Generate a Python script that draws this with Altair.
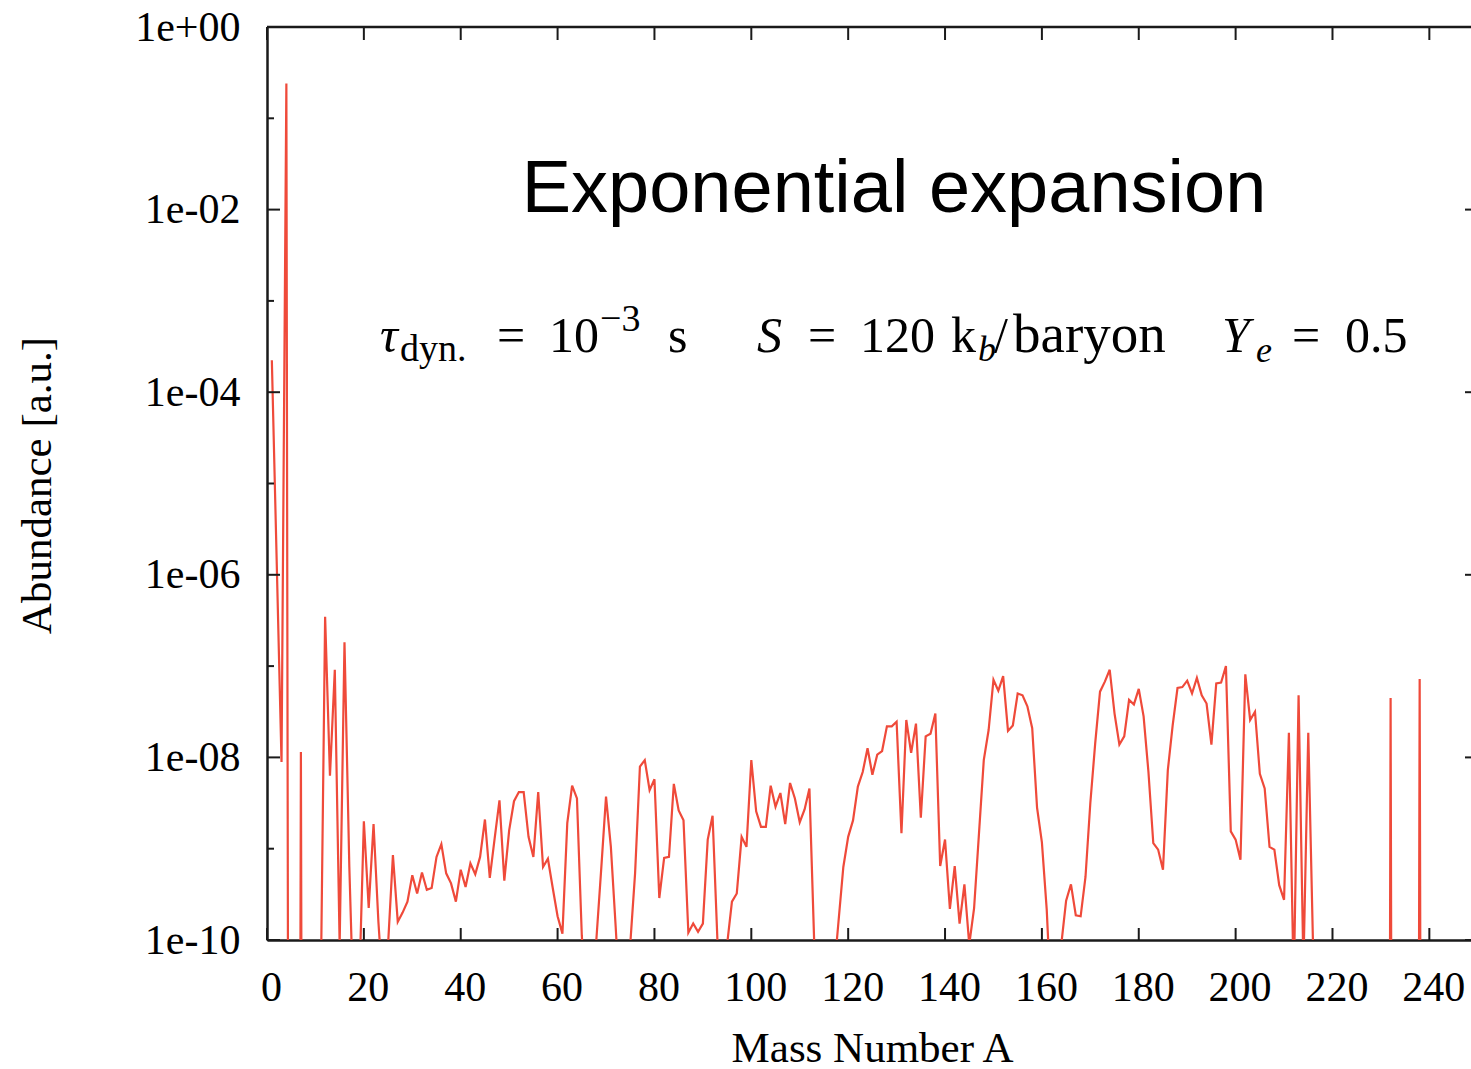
import altair as alt
import pandas as pd

# ---------------- data ----------------
mass_number = list(range(1, 251))
# log10 of abundance for A = 1..250 (values far below 1e-10 fall off the plot)
log10_abundance = [
    -3.65, -5.85, -8.05, -0.62, -30, -30, -7.94, -30, -30, -30,          # 1-10
    -11.0, -6.46, -8.20, -7.04, -10.05, -6.74, -9.20, -11.0, -10.6, -8.70,  # 11-20
    -9.65, -8.73, -9.80, -10.6, -10.05, -9.07, -9.80, -9.70, -9.58, -9.29,  # 21-30
    -9.49, -9.26, -9.45, -9.43, -9.09, -8.95, -9.27, -9.38, -9.58, -9.23,   # 31-40
    -9.42, -9.16, -9.28, -9.09, -8.68, -9.32, -8.89, -8.47, -9.35, -8.80,   # 41-50
    -8.48, -8.38, -8.38, -8.87, -9.09, -8.38, -9.20, -9.11, -9.43, -9.74,   # 51-60
    -9.93, -8.72, -8.31, -8.45, -9.95, -10.8, -10.8, -10.0, -9.23, -8.43,   # 61-70
    -8.98, -9.86, -10.8, -10.8, -10.05, -9.27, -8.10, -8.03, -8.36, -8.24,  # 71-80
    -9.54, -9.10, -9.09, -8.29, -8.58, -8.69, -9.92, -9.82, -9.91, -9.82,   # 81-90
    -8.90, -8.64, -10.0, -10.8, -10.05, -9.58, -9.49, -8.87, -8.98, -8.03,  # 91-100
    -8.59, -8.76, -8.76, -8.31, -8.54, -8.39, -8.73, -8.28, -8.45, -8.71,   # 101-110
    -8.57, -8.34, -10.05, -11.0, -11.0, -11.0, -10.4, -9.80, -9.20, -8.87,  # 111-120
    -8.69, -8.32, -8.16, -7.90, -8.19, -7.97, -7.93, -7.66, -7.66, -7.61,   # 121-130
    -8.83, -7.59, -7.95, -7.63, -8.66, -7.77, -7.74, -7.52, -9.19, -8.90,   # 131-140
    -9.66, -9.19, -9.82, -9.39, -10.05, -9.65, -8.84, -8.03, -7.70, -7.15,  # 141-150
    -7.27, -7.11, -7.71, -7.65, -7.30, -7.32, -7.44, -7.68, -8.55, -8.93,   # 151-160
    -9.67, -10.8, -10.8, -10.05, -9.57, -9.39, -9.73, -9.74, -9.31, -8.50,  # 161-170
    -7.85, -7.28, -7.17, -7.04, -7.52, -7.86, -7.77, -7.37, -7.42, -7.25,   # 171-180
    -7.55, -8.16, -8.94, -9.01, -9.23, -8.14, -7.65, -7.24, -7.23, -7.16,   # 181-190
    -7.30, -7.13, -7.32, -7.41, -7.86, -7.19, -7.18, -7.00, -8.81, -8.90,   # 191-200
    -9.12, -7.09, -7.59, -7.50, -8.18, -8.34, -8.98, -9.01, -9.40, -9.56,   # 201-210
    -7.73, -10.5, -7.32, -10.3, -7.73, -10.1, -30, -30, -30, -30,           # 211-220
    -30, -30, -30, -30, -30, -30, -30, -30, -30, -30,                       # 221-230
    -30, -7.35, -30, -30, -30, -30, -30, -7.14, -30, -30,                   # 231-240
    -30, -30, -30, -30, -30, -30, -30, -30, -30, -30,                       # 241-250
]
abundance = [10 ** v for v in log10_abundance]

x_tick_values = [0, 20, 40, 60, 80, 100, 120, 140, 160, 180, 200, 220, 240]
y_major_values = [1e0, 1e-2, 1e-4, 1e-6, 1e-8, 1e-10]
y_minor_values = [1e-1, 1e-3, 1e-5, 1e-7, 1e-9]

# ---------------- layout ----------------
W, H = 1204, 913
RED = "#ef4a3a"
INK = "#1a1a1a"
SERIF = "Liberation Serif"

df = pd.DataFrame({"A": mass_number, "abund": abundance})
xt = pd.DataFrame({"A": x_tick_values})
ymaj = pd.DataFrame({"abund": y_major_values})
ymin = pd.DataFrame({"abund": y_minor_values})
one = pd.DataFrame({"k": [0]})

xs = alt.Scale(domain=[0, 248.6], nice=False, zero=False)
ys = alt.Scale(type="log", domain=[1e-10, 1], nice=False)

label_expr = ("datum.value >= 1 ? '1e+00' : '1e-' + "
              "(round(-log(datum.value)/LN10) < 10 ? '0' : '') + round(-log(datum.value)/LN10)")

x_axis = alt.Axis(
    values=x_tick_values, format="d", grid=False, ticks=False, tickSize=0,
    labelFont=SERIF, labelFontSize=42, labelColor="black", labelPadding=60,
    labelBaseline="alphabetic", labelOffset=4, labelFlush=False, labelOverlap=False,
    domainColor=INK, domainWidth=2.5,
    title="Mass Number A", titleFont=SERIF, titleFontSize=43, titleFontWeight="normal",
    titleColor="black", titleBaseline="alphabetic", titleAlign="center",
    titleX=605, titleY=121)
y_axis = alt.Axis(
    values=y_major_values, labelExpr=label_expr, grid=False, ticks=False, tickSize=0,
    labelFont=SERIF, labelFontSize=42, labelColor="black", labelPadding=27,
    labelBaseline="middle", labelFlush=False, labelOverlap=False,
    domainColor=INK, domainWidth=2.5,
    title="Abundance [a.u.]", titleFont=SERIF, titleFontSize=43, titleFontWeight="normal",
    titleColor="black", titleAngle=270, titleBaseline="alphabetic", titleAlign="center",
    titleX=-217, titleY=458)

line = alt.Chart(df).mark_line(color=RED, strokeWidth=2.2, clip=True).encode(
    x=alt.X("A:Q", scale=xs, axis=x_axis),
    y=alt.Y("abund:Q", scale=ys, axis=y_axis),
)

tick_style = dict(color=INK, strokeWidth=2)

bottom_ticks = alt.Chart(xt).mark_rule(**tick_style).encode(
    x=alt.X("A:Q", scale=xs, axis=x_axis), y=alt.value(H), y2=alt.value(H - 12))
top_ticks = alt.Chart(xt).mark_rule(**tick_style).encode(
    x=alt.X("A:Q", scale=xs, axis=x_axis), y=alt.value(0), y2=alt.value(13))
left_major = alt.Chart(ymaj).mark_rule(**tick_style).encode(
    y=alt.Y("abund:Q", scale=ys, axis=y_axis), x=alt.value(0), x2=alt.value(13))
left_minor = alt.Chart(ymin).mark_rule(**tick_style).encode(
    y=alt.Y("abund:Q", scale=ys, axis=y_axis), x=alt.value(0), x2=alt.value(7))
right_major = alt.Chart(ymaj).mark_rule(**tick_style).encode(
    y=alt.Y("abund:Q", scale=ys, axis=y_axis), x=alt.value(W - 6), x2=alt.value(W))
top_frame = alt.Chart(one).mark_rule(color=INK, strokeWidth=2.5).encode(
    x=alt.value(0), x2=alt.value(W), y=alt.value(0))

# ---------------- annotations ----------------
def txt(s, px, py, size, font=SERIF, style="normal", align="left"):
    return alt.Chart(one).mark_text(
        text=s, font=font, fontSize=size, fontStyle=style, align=align,
        baseline="alphabetic", color="black"
    ).encode(x=alt.value(px - 267), y=alt.value(py - 27))

annotations = [
    txt("Exponential expansion", 894, 212, 74, font="Liberation Sans", align="center"),
    txt("τ", 380, 352, 50, style="italic"),
    txt("dyn.", 400, 361, 38),
    txt("=", 497, 352, 50),
    txt("10", 549, 352, 50),
    txt("−3", 600, 331, 38),
    txt("s", 668, 352, 50),
    txt("S", 757, 352, 50, style="italic"),
    txt("=", 808, 352, 50),
    txt("120", 860, 352, 50),
    txt("k", 951, 352, 50),
    txt("b", 978, 361, 36, style="italic"),
    txt("/", 994, 352, 50),
    txt("baryon", 1013, 352, 55),
    txt("Y", 1222, 352, 50, style="italic"),
    txt("e", 1256, 362, 36, style="italic"),
    txt("=", 1292, 352, 50),
    txt("0.5", 1345, 352, 50),
]

chart = alt.layer(
    line, bottom_ticks, top_ticks, left_major, left_minor, right_major, top_frame,
    *annotations
).properties(
    width=W, height=H,
    padding={"left": 267, "top": 27, "right": 0, "bottom": 129},
    autosize=alt.AutoSizeParams(type="none"),
    background="white",
).configure_view(stroke=None)

chart.save("out.html", embed_options={"renderer": "svg", "actions": False})
